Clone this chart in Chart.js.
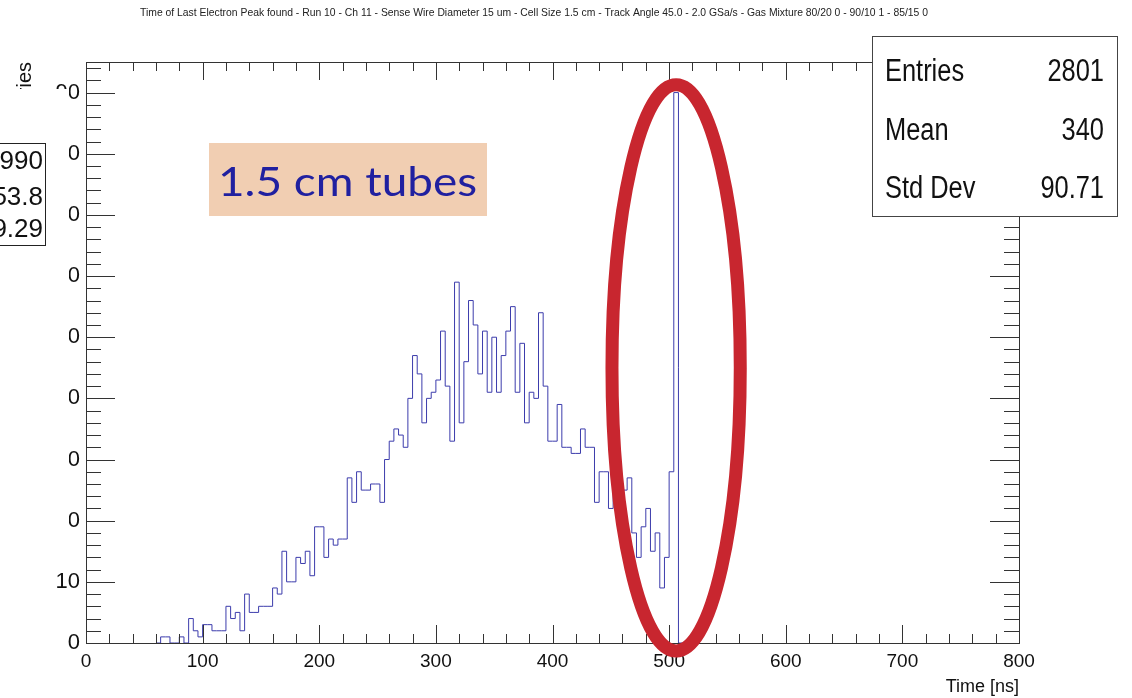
<!DOCTYPE html>
<html>
<head>
<meta charset="utf-8">
<script src="https://cdn.jsdelivr.net/npm/chart.js@4.4.0/dist/chart.umd.min.js"></script>
<style>
  html, body { margin: 0; padding: 0; background: #fff; }
</style>
</head>
<body>
<canvas id="myChart" width="1132" height="698"></canvas>
<script>
// histogram: 4 ns bins starting at 60 ns
const binStart = 60;
const binWidth = 4;
const counts = [
  0, 1, 1, 0, 0, 1, 0, 4, 2, 1,        // 60 - 96
  3, 3, 2, 2, 2, 6, 4, 5, 2, 8,        // 100 - 136
  5, 5, 6, 6, 6, 9, 8, 15, 10, 10,     // 140 - 176
  14, 13, 15, 11, 19, 19, 14, 17, 16, 17, // 180 - 216
  17, 27, 23, 28, 25, 25, 26, 26, 23, 30, // 220 - 256
  33, 35, 34, 32, 40, 47, 44, 36, 40, 41, // 260 - 296
  43, 51, 42, 33, 59, 36, 46, 56, 52, 44, // 300 - 336
  51, 41, 50, 41, 47, 51, 55, 41, 49, 36, // 340 - 376
  41, 40, 54, 42, 33, 33, 39, 32, 32, 31, // 380 - 416
  31, 35, 32, 32, 23, 28, 28, 22, 25, 25, // 420 - 456
  25, 27, 18, 14, 19, 22, 15, 18, 9, 14,  // 460 - 496
  28, 90, 0                               // 500 - 508
];
const xMin = 0, xMax = 800;
const yMin = 0, yMax = 95;

const titleText = 'Time of Last Electron Peak found - Run 10 - Ch 11 - Sense Wire Diameter 15 um - Cell Size 1.5 cm - Track Angle 45.0 - 2.0 GSa/s - Gas Mixture 80/20 0 - 90/10 1 - 85/15 0';
const xTitle = 'Time [ns]';
const yTitle = 'Entries';
const statsLabels = ['Entries', 'Mean', 'Std Dev'];
const statsValues = ['2801', '340', '90.71'];
const hiddenStatsValues = ['990', '53.8', '9.29'];
const noteText = '1.5 cm tubes';

const sans = "'Liberation Sans', Arial, sans-serif";

let points = [];
for (let i = 0; i < counts.length; i++) {
  points.push({ x: binStart + i * binWidth, y: counts[i] });
}
points.push({ x: binStart + counts.length * binWidth, y: 0 });

// text squeezed sideways, to look like the narrow Helvetica that ROOT uses
function squeezed(ctx, text, x, y, align, sx) {
  ctx.save();
  ctx.translate(x, y);
  ctx.scale(sx, 1);
  ctx.textAlign = align;
  ctx.fillText(text, 0, 0);
  ctx.restore();
}

const decor = {
  id: 'decor',
  afterDraw(chart) {
    const ctx = chart.ctx, a = chart.chartArea;
    const xs = chart.scales.x, ys = chart.scales.y;
    ctx.save();

    // frame and inward ticks, ROOT style
    ctx.strokeStyle = '#333';
    ctx.lineWidth = 1;
    ctx.strokeRect(a.left + 0.5, a.top + 0.5, a.right - a.left, a.bottom - a.top);
    ctx.beginPath();
    for (let v = xMin; v <= xMax; v += 20) {
      const px = Math.round(xs.getPixelForValue(v)) + 0.5;
      const len = v % 100 === 0 ? 18 : 9;
      ctx.moveTo(px, a.bottom); ctx.lineTo(px, a.bottom - len);
      ctx.moveTo(px, a.top); ctx.lineTo(px, a.top + len);
    }
    for (let v = yMin; v < yMax; v += 2) {
      const py = Math.round(ys.getPixelForValue(v)) + 0.5;
      const len = v % 10 === 0 ? 29 : 15;
      ctx.moveTo(a.left, py); ctx.lineTo(a.left + len, py);
      ctx.moveTo(a.right, py); ctx.lineTo(a.right - len, py);
    }
    ctx.stroke();

    // the screenshot is cropped on the left
    ctx.fillStyle = '#fff';
    ctx.fillRect(0, 89, 69, 476);

    // piece of another stats box sticking out on the left
    ctx.strokeStyle = '#222';
    ctx.strokeRect(-5.5, 143.5, 51, 102);
    ctx.fillStyle = '#111';
    ctx.font = '26px ' + sans;
    ctx.textAlign = 'right';
    ctx.textBaseline = 'middle';
    [162, 198, 230].forEach((y, i) => ctx.fillText(hiddenStatsValues[i], 43, y));

    // title
    ctx.font = '11px ' + sans;
    ctx.fillStyle = '#222';
    let w = ctx.measureText(titleText).width;
    squeezed(ctx, titleText, 534, 13, 'center', 788 / w);

    // red ellipse around the peak
    const cx = xs.getPixelForValue(506), cy = ys.getPixelForValue(45);
    const rx = xs.getPixelForValue(561) - cx;
    const ry = cy - ys.getPixelForValue(91.3);
    ctx.beginPath();
    ctx.ellipse(cx, cy, rx, ry, 0, 0, Math.PI * 2);
    ctx.strokeStyle = '#c8262f';
    ctx.lineWidth = 13;
    ctx.stroke();

    // note box
    ctx.fillStyle = '#f1ceb2';
    ctx.fillRect(209, 143, 278, 73);
    ctx.fillStyle = '#2020a0';
    ctx.font = "41px Lato, 'Open Sans', sans-serif";
    ctx.textBaseline = 'alphabetic';
    w = ctx.measureText(noteText).width;
    squeezed(ctx, noteText, 218, 196, 'left', 259 / w);

    // stats box
    ctx.fillStyle = '#fff';
    ctx.fillRect(872, 36, 245, 180);
    ctx.strokeStyle = '#444';
    ctx.lineWidth = 1;
    ctx.strokeRect(872.5, 36.5, 245, 180);
    ctx.fillStyle = '#111';
    ctx.font = '31px ' + sans;
    [81, 140, 198].forEach((y, i) => {
      squeezed(ctx, statsLabels[i], 885, y, 'left', 0.82);
      squeezed(ctx, statsValues[i], 1104, y, 'right', 0.82);
    });
    ctx.restore();
  }
};

var config = {
  type: 'line',
  data: {
    datasets: [{
      data: points,
      stepped: 'before',
      borderColor: '#3c3cac',
      borderWidth: 1,
      pointRadius: 0,
      fill: false
    }]
  },
  options: {
    responsive: false,
    animation: false,
    layout: { padding: { left: 0, top: 62, right: 113, bottom: 0 } },
    plugins: {
      legend: { display: false },
      tooltip: { enabled: false },
      title: { display: false }
    },
    scales: {
      x: {
        type: 'linear',
        min: xMin,
        max: xMax,
        afterFit: s => { s.height = 55; },
        afterBuildTicks: s => { s.ticks = s.ticks.filter(t => t.value % 100 === 0); },
        grid: { display: false, drawTicks: false },
        border: { display: false },
        ticks: {
          stepSize: 100,
          autoSkip: false,
          maxRotation: 0,
          padding: 7,
          color: '#111',
          font: { family: sans, size: 19 }
        },
        title: {
          display: true,
          text: xTitle,
          align: 'end',
          color: '#111',
          padding: 0,
          font: { family: sans, size: 18 }
        }
      },
      y: {
        type: 'linear',
        min: yMin,
        max: yMax,
        afterFit: s => { s.width = 86; },
        afterBuildTicks: s => { s.ticks = s.ticks.filter(t => t.value % 10 === 0); },
        grid: { display: false, drawTicks: false },
        border: { display: false },
        ticks: {
          stepSize: 10,
          padding: 6,
          color: '#111',
          font: { family: sans, size: 22 }
        },
        title: {
          display: true,
          text: yTitle,
          align: 'end',
          color: '#111',
          padding: { top: 13, bottom: 0 },
          font: { family: sans, size: 20 }
        }
      }
    }
  },
  plugins: [decor]
};

var ctx = document.getElementById('myChart').getContext('2d');
window.myHist = new Chart(ctx, config);
</script>
</body>
</html>
